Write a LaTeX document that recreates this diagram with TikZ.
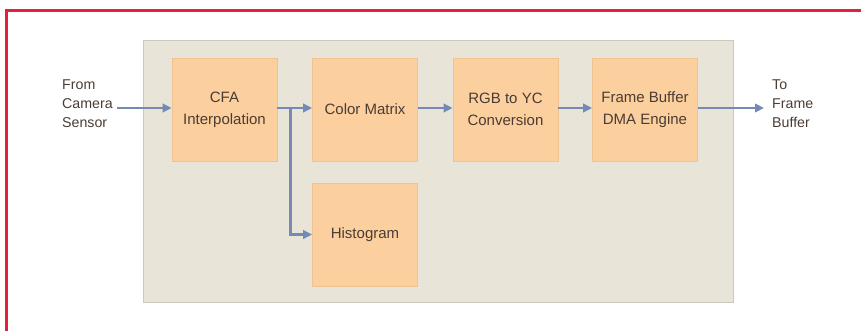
\documentclass[tikz,border=0pt]{standalone}
\usepackage{fontspec}
\setmainfont{Liberation Sans}
\usetikzlibrary{positioning,arrows.meta}

\definecolor{frame}{HTML}{E5203E}
\definecolor{panel}{HTML}{E8E4D8}
\definecolor{blockfill}{HTML}{FCCF9E}
\definecolor{blockedge}{HTML}{F0C290}
\definecolor{flowline}{HTML}{7489B4}
\definecolor{ink}{HTML}{4A3C34}

\begin{document}
\begin{tikzpicture}[x=1pt, y=-1pt,
        block/.style={rectangle, fill=blockfill, draw=blockedge, line width=0.8pt,
            minimum width=105pt, minimum height=103pt, align=center, text=ink,
            font=\fontsize{15}{22}\selectfont},
        label/.style={align=left, text=ink, inner sep=0pt, font=\fontsize{14.2}{19}\selectfont},
        flow/.style={draw=flowline, line width=2.4pt, -{Triangle[length=9pt, width=8.5pt]}}
    ]
        \useasboundingbox (0,0) rectangle (861,330);
        \clip (0,0) rectangle (861,330);

        % Border
        \draw[frame, line width=3pt] (6,340) -- (6,10) -- (870,10);

        % Panel
        \fill[panel] (143,40) rectangle (733,302);
        \draw[panel!88!black, line width=0.8pt] (143,40) rectangle (733,302);

        % Blocks
        \node[block] (cfa) at (224.5,109.5) {CFA\\Interpolation};
        \node[block] (cm) at (365,109.5) {Color Matrix};
        \node[block] (rgb) at (505.5,109.5) {RGB to YC\\Conversion};
        \node[block] (fb) at (645,109.5) {Frame Buffer\\DMA Engine};
        \node[block] (hist) at (365,234.5) {Histogram};

        % Outside labels
        \node[label, anchor=west] (src) at (62,104) {From\\Camera\\Sensor};
        \node[label, anchor=west] (dst) at (772,104) {To\\Frame\\Buffer};
        \coordinate (in) at (117,108);
        \coordinate (out) at (764,108);

        % Connections
        \draw[flow] (in) -- ([yshift=1.5pt]cfa.west);
        \draw[flow] ([yshift=1.5pt]cfa.east) -- ([yshift=1.5pt]cm.west);
        \coordinate (split) at ([xshift=13pt, yshift=1.5pt]cfa.east);
        \draw[flow] (split) |- (hist.west);
        \draw[flow] ([yshift=1.5pt]cm.east) -- ([yshift=1.5pt]rgb.west);
        \draw[flow] ([yshift=1.5pt]rgb.east) -- ([yshift=1.5pt]fb.west);
        \draw[flow] ([yshift=1.5pt]fb.east) -- (out);
    \end{tikzpicture}
\end{document}
